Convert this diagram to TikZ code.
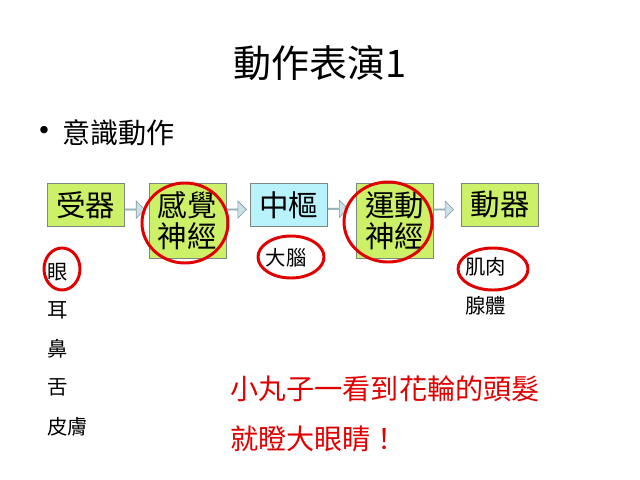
\documentclass[tikz,border=0pt]{standalone}
\usepackage{fontspec}
\setmainfont{Noto Sans CJK TC}
\newfontfamily\bulletfont{DejaVu Sans}
\usepackage{tikz}
\usetikzlibrary{
    arrows.meta,
    positioning,
    shapes.arrows
}
\definecolor{limefill}{HTML}{CCF068}
\definecolor{cyanfill}{HTML}{B8F2FA}
\definecolor{boxborder}{HTML}{7A8A80}
\definecolor{arrowfill}{HTML}{C8E0E6}
\definecolor{arrowborder}{HTML}{7F98A0}
\definecolor{ringred}{HTML}{E00000}
\tikzset{
    stage/.style={
        rectangle, draw=boxborder, fill=#1,
        minimum width=1.925cm, minimum height=1.075cm,
        inner sep=0pt, align=center,
        font=\fontsize{21}{22.5}\selectfont
    },
    stage/.default={limefill},
    stage tall/.style={
        stage=#1, minimum height=1.875cm
    },
    stage tall/.default={limefill},
    flow arrow/.style={
        single arrow, draw=arrowborder, fill=arrowfill,
        minimum height=0.5cm, minimum width=0.43cm,
        single arrow head extend=0.1cm, inner sep=0pt,
        anchor=tail
    },
    organ/.style={
        anchor=west, inner sep=0pt,
        font=\fontsize{14.5}{16}\selectfont
    },
    story/.style={
        anchor=west, inner sep=0pt, text=ringred,
        font=\fontsize{20}{22}\selectfont
    },
    ring/.style={
        draw=ringred, line width=2.1pt
    },
}
\begin{document}
\begin{tikzpicture}[x=0.025cm, y=-0.025cm]
    \useasboundingbox (0,0) rectangle (640,480);

    % Title and bullet
    \node[font=\fontsize{27}{30}\selectfont] (title) at (320,63) {動作表演1};
    \node[inner sep=0pt, font=\bulletfont\fontsize{18}{20}\selectfont] (bullet) at (44,133) {•};
    \node[anchor=west, inner sep=0pt, font=\fontsize{20}{22}\selectfont] (topic) at (62,133) {意識動作};

    % Reflex chain
    \node[stage, anchor=north west] (recv) at (47,183) {受器};
    \node[stage tall, right=0.6cm of recv.north east, anchor=north west] (sense) {感覺\\神經};
    \node[stage=cyanfill, right=0.6cm of sense.north east, anchor=north west] (hub) {中樞};
    \node[stage tall, right=0.7cm of hub.north east, anchor=north west] (motor) {運動\\神經};
    \node[stage, right=0.7cm of motor.north east, anchor=north west] (effector) {動器};

    \node[flow arrow] (a1) at ([yshift=-0.12cm]recv.east) {};
    \node[flow arrow] (a2) at ([yshift=-0.12cm]recv.east -| sense.east) {};
    \node[flow arrow] (a3) at ([yshift=-0.1cm]hub.east) {};
    \node[flow arrow] (a4) at ([yshift=-0.12cm]hub.east -| motor.east) {};

    % Receptors
    \node[organ] (eye) at (47,272) {眼};
    \node[organ] (ear) at (47,310) {耳};
    \node[organ] (nose) at (47,349) {鼻};
    \node[organ] (tongue) at (47,387) {舌};
    \node[organ] (skin) at (47,427) {皮膚};

    % Centre and effectors
    \node[organ, anchor=center] (brain) at (286,258) {大腦};
    \node[organ] (muscle) at (465,267) {肌肉};
    \node[organ] (gland) at (465,306) {腺體};

    % Red rings
    \draw[ring] (62,269) ellipse (18 and 21);
    \draw[ring] (185,223) ellipse (43 and 40);
    \draw[ring] (291,257) ellipse (33 and 21);
    \draw[ring] (388,222) ellipse (44 and 40);
    \draw[ring] (493,269) ellipse (35 and 21);

    % Example
    \node[story] (story1) at (230,389) {小丸子一看到花輪的頭髮};
    \node[story] (story2) at (230,439) {就瞪大眼睛！};
\end{tikzpicture}
\end{document}
